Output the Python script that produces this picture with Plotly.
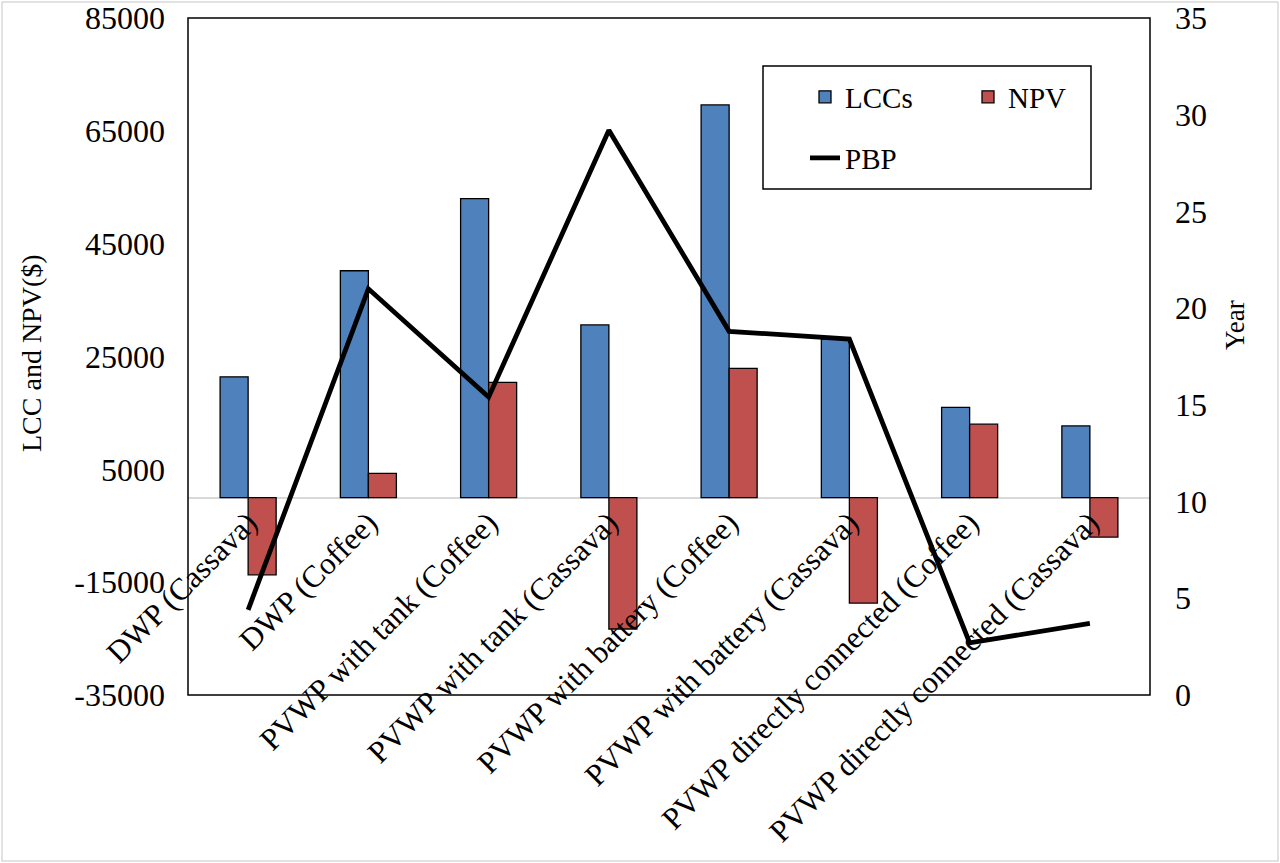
import plotly.graph_objects as go

# Pumping system options compared
categories = [
    "DWP (Cassava)",
    "DWP (Coffee)",
    "PVWP with tank (Coffee)",
    "PVWP with tank (Cassava)",
    "PVWP with battery (Coffee)",
    "PVWP with battery (Cassava)",
    "PVWP directly connected (Coffee)",
    "PVWP directly connected (Cassava)",
]

# Life-cycle cost and net present value in $
lcc_values = [21400, 40200, 53000, 30600, 69600, 28100, 16000, 12700]
npv_values = [-13700, 4300, 20400, -23300, 22900, -18700, 13000, -7000]

# Payback period in years
pbp_values = [4.4, 21.0, 15.4, 29.2, 18.8, 18.4, 2.7, 3.7]

left_ticks = [-35000, -15000, 5000, 25000, 45000, 65000, 85000]
right_ticks = [0, 5, 10, 15, 20, 25, 30, 35]

FONT = "Liberation Serif"
BLUE = "#4F81BD"
RED = "#C0504D"

fig = go.Figure()

fig.add_trace(go.Bar(
    x=categories, y=lcc_values, name="LCCs",
    marker=dict(color=BLUE, line=dict(color="#000000", width=1.3)),
    legend="legend",
))
fig.add_trace(go.Bar(
    x=categories, y=npv_values, name="NPV",
    marker=dict(color=RED, line=dict(color="#000000", width=1.3)),
    legend="legend",
))
fig.add_trace(go.Scatter(
    x=categories, y=pbp_values, name="PBP", mode="lines",
    line=dict(color="#000000", width=4.8),
    yaxis="y2", legend="legend2",
))

# plot area: 188..1150 px wide, 18..695 px tall
L, R, T, B = 188, 130, 18, 168
PW, PH = 1280 - L - R, 863 - T - B


def px_x(x):
    return (x - L) / PW


def px_y(y):
    return (863 - B - y) / PH


fig.update_layout(
    width=1280, height=863,
    margin=dict(l=L, r=R, t=T, b=B, autoexpand=False),
    paper_bgcolor="white", plot_bgcolor="white",
    font=dict(family=FONT, color="#000000", size=28),
    barmode="group", bargap=0.534, bargroupgap=0,
    xaxis=dict(
        type="category", anchor="free", position=35 / 120,
        tickangle=-45, showline=False, showgrid=False, ticks="",
        tickfont=dict(family=FONT, size=31), zeroline=False, automargin=False,
    ),
    yaxis=dict(
        range=[-35000, 85000], tickvals=left_ticks,
        ticktext=[str(v) for v in left_ticks],
        showgrid=False, ticks="", showline=False, automargin=False,
        zeroline=True, zerolinecolor="#D9D9D9", zerolinewidth=1.5,
        tickfont=dict(family=FONT, size=32), ticklabelstandoff=22,
    ),
    yaxis2=dict(
        range=[0, 35], tickvals=right_ticks, overlaying="y", side="right",
        showgrid=False, ticks="", showline=False, zeroline=False, automargin=False,
        tickfont=dict(family=FONT, size=32), ticklabelstandoff=24,
    ),
    legend=dict(
        orientation="h", x=px_x(805), xanchor="left",
        y=px_y(97), yanchor="middle",
        font=dict(family=FONT, size=29), bgcolor="rgba(0,0,0,0)",
        entrywidth=118, entrywidthmode="pixels", traceorder="normal",
    ),
    legend2=dict(
        orientation="h", x=px_x(805), xanchor="left",
        y=px_y(158), yanchor="middle",
        font=dict(family=FONT, size=29), bgcolor="rgba(0,0,0,0)",
    ),
    showlegend=True,
)

# plot frame, legend box and outer chart border
fig.add_shape(type="rect", xref="paper", yref="paper", x0=0, x1=1, y0=0, y1=1,
              line=dict(color="#000000", width=1.5), layer="above")
fig.add_shape(type="rect", xref="paper", yref="paper",
              x0=px_x(763), x1=px_x(1091), y0=px_y(189), y1=px_y(66),
              line=dict(color="#000000", width=1.5), fillcolor="white", layer="above")
fig.add_shape(type="rect", xref="paper", yref="paper",
              x0=px_x(2), x1=px_x(1278), y0=px_y(861), y1=px_y(2),
              line=dict(color="#D9D9D9", width=1.5), layer="below")

# axis titles
fig.add_annotation(text="LCC and NPV($)", xref="paper", yref="paper",
                   x=px_x(31), y=px_y(353), textangle=-90, showarrow=False,
                   xanchor="center", yanchor="middle",
                   font=dict(family=FONT, size=28))
fig.add_annotation(text="Year", xref="paper", yref="paper",
                   x=px_x(1235), y=px_y(325), textangle=-90, showarrow=False,
                   xanchor="center", yanchor="middle",
                   font=dict(family=FONT, size=27))

fig.write_html("out.html")
